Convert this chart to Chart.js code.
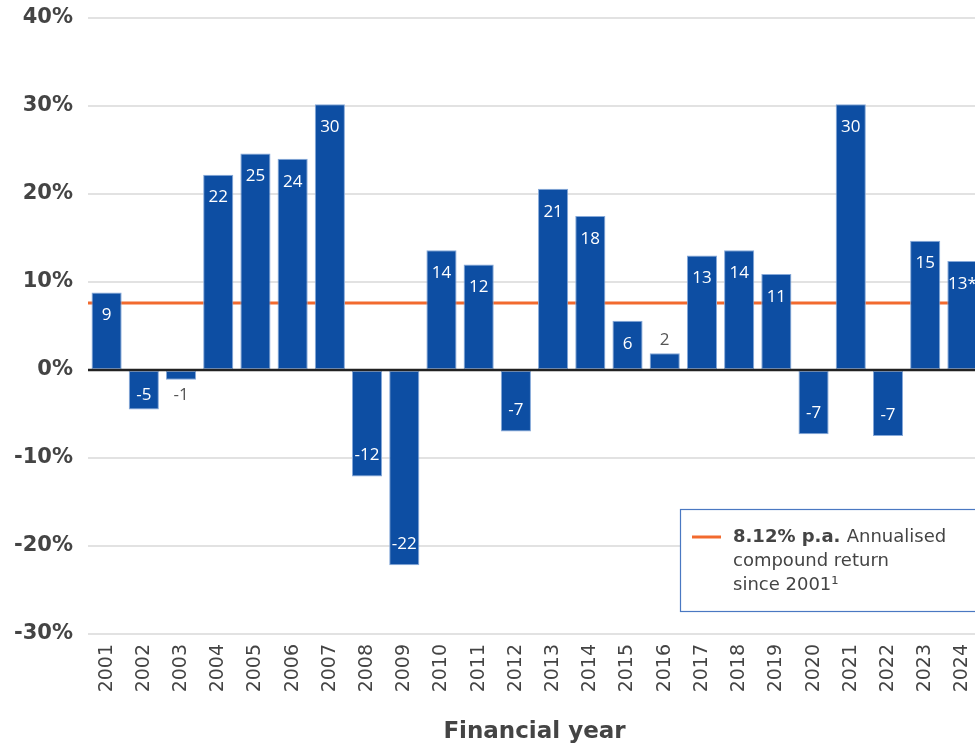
<!DOCTYPE html>
<html>
<head>
<meta charset="utf-8">
<script src="https://cdn.jsdelivr.net/npm/chart.js@4/dist/chart.umd.min.js"></script>
<style>
  html, body { margin: 0; padding: 0; background: #fff; overflow: hidden; width: 975px; height: 748px; }
  #wrap { position: absolute; left: 0; top: 0; width: 981px; height: 748px; }
</style>
</head>
<body>
<div id="wrap"><canvas id="c"></canvas></div>
<script>
const years = ['2001','2002','2003','2004','2005','2006','2007','2008','2009','2010','2011','2012','2013','2014','2015','2016','2017','2018','2019','2020','2021','2022','2023','2024'];
const returns = [8.8, -4.5, -1.1, 22.2, 24.6, 24.0, 30.2, -12.1, -22.2, 13.6, 12.0, -7.0, 20.6, 17.5, 5.6, 1.9, 13.0, 13.6, 10.9, -7.3, 30.2, -7.5, 14.7, 12.4];
const valueLabels = ['9','-5','-1','22','25','24','30','-12','-22','14','12','-7','21','18','6','2','13','14','11','-7','30','-7','15','13*'];
const annualisedLine = 7.6;
const yTicks = [-30, -20, -10, 0, 10, 20, 30, 40];
const legendBold = '8.12% p.a.';
const legendLines = ['Annualised', 'compound return', 'since 2001¹'];
const xTitle = 'Financial year';

const FONT = '"DejaVu Sans", sans-serif';
const LIGHT = '"Open Sans", "DejaVu Sans", sans-serif';
const TEXT = '#444444';

const refLinePlugin = {
  id: 'refLine',
  beforeDatasetsDraw(chart) {
    const {ctx, chartArea, scales} = chart;
    const y = scales.y.getPixelForValue(annualisedLine);
    ctx.save();
    ctx.strokeStyle = '#f26a2e';
    ctx.lineWidth = 3;
    ctx.beginPath();
    ctx.moveTo(chartArea.left, y);
    ctx.lineTo(chartArea.right, y);
    ctx.stroke();
    ctx.restore();
  },
  afterDatasetsDraw(chart) {
    const {ctx, chartArea, scales} = chart;
    const y0 = scales.y.getPixelForValue(0);
    ctx.save();
    ctx.strokeStyle = '#222222';
    ctx.lineWidth = 2.5;
    ctx.beginPath();
    ctx.moveTo(chartArea.left, y0);
    ctx.lineTo(chartArea.right, y0);
    ctx.stroke();
    const meta = chart.getDatasetMeta(0);
    ctx.font = '17px ' + LIGHT;
    ctx.textAlign = 'center';
    ctx.textBaseline = 'middle';
    meta.data.forEach((bar, i) => {
      const v = returns[i];
      const h = Math.abs(bar.y - bar.base);
      const dir = v >= 0 ? 1 : -1;
      let cy;
      if (h < 28) {
        ctx.fillStyle = '#555555';
        cy = bar.y - dir * 14;
      } else {
        ctx.fillStyle = '#ffffff';
        const off = Math.min(22, Math.max(15, h - 25));
        cy = bar.y + dir * off;
      }
      ctx.fillText(valueLabels[i], bar.x, cy + 1);
    });
    ctx.restore();
  },
  afterDraw(chart) {
    const {ctx} = chart;
    ctx.save();
    const bx = 680.5, by = 509.5, bw = 310, bh = 102;
    ctx.fillStyle = '#ffffff';
    ctx.fillRect(bx, by, bw, bh);
    ctx.strokeStyle = '#4a78c2';
    ctx.lineWidth = 1.2;
    ctx.strokeRect(bx, by, bw, bh);
    ctx.strokeStyle = '#f26a2e';
    ctx.lineWidth = 3;
    ctx.beginPath();
    ctx.moveTo(692, 537);
    ctx.lineTo(721, 537);
    ctx.stroke();
    ctx.fillStyle = TEXT;
    ctx.textBaseline = 'middle';
    ctx.textAlign = 'left';
    ctx.font = 'bold 18px ' + FONT;
    ctx.fillText(legendBold, 733, 537);
    const w = ctx.measureText(legendBold + ' ').width;
    ctx.font = '18px ' + FONT;
    ctx.fillText(legendLines[0], 733 + w, 537);
    ctx.fillText(legendLines[1], 733, 561);
    ctx.fillText(legendLines[2], 733, 585);
    ctx.restore();
  }
};

new Chart(document.getElementById('c'), {
  type: 'bar',
  data: {
    labels: years,
    datasets: [{
      data: returns,
      backgroundColor: '#0d4ea3',
      borderColor: '#86a9d9',
      borderWidth: 1,
      borderSkipped: false,
      barPercentage: 0.81,
      categoryPercentage: 1.0
    }]
  },
  options: {
    responsive: true,
    maintainAspectRatio: false,
    animation: false,
    events: [],
    layout: { padding: { top: 18, left: 0, right: 0, bottom: 0 } },
    plugins: { legend: { display: false }, tooltip: { enabled: false } },
    scales: {
      x: {
        grid: { display: false, drawTicks: false },
        border: { display: false },
        ticks: {
          color: TEXT,
          font: { family: FONT, size: 19 },
          minRotation: 90,
          maxRotation: 90,
          padding: 10,
          autoSkip: false
        },
        title: {
          display: true,
          text: xTitle,
          color: TEXT,
          font: { family: FONT, size: 23, weight: 'bold' },
          padding: { top: 0, bottom: 2 }
        },
        afterFit(scale) { scale.height = 114; scale.paddingLeft = 0; scale.paddingRight = 0; }
      },
      y: {
        min: -30,
        max: 40,
        afterBuildTicks(scale) { scale.ticks = yTicks.map(v => ({ value: v })); },
        grid: { color: '#e2e2e2', lineWidth: 2, drawTicks: false },
        border: { display: false },
        ticks: {
          color: TEXT,
          font: { family: FONT, size: 21, weight: 'bold' },
          padding: 15,
          callback: v => v + '%'
        },
        afterFit(scale) { scale.width = 88; scale.paddingTop = 0; scale.paddingBottom = 0; }
      }
    }
  },
  plugins: [refLinePlugin]
});
</script>
</body>
</html>
